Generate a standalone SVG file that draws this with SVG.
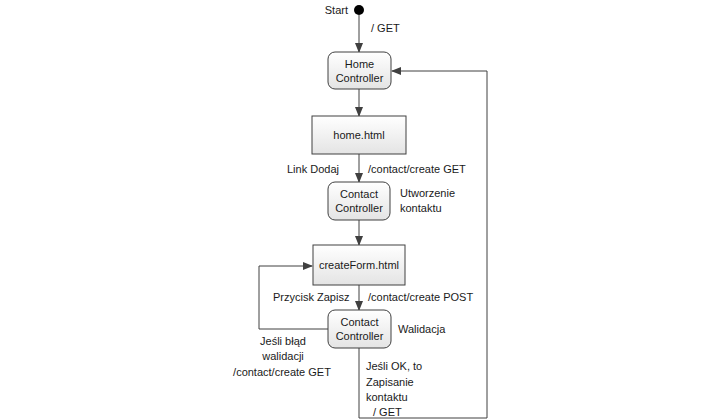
<svg xmlns="http://www.w3.org/2000/svg" width="720" height="420" viewBox="0 0 720 420">
<defs>
<linearGradient id="g" x1="0" y1="0" x2="0" y2="1">
<stop offset="0" stop-color="#ffffff"/>
<stop offset="1" stop-color="#e4e4e4"/>
</linearGradient>
<marker id="a" markerWidth="10" markerHeight="8" refX="9" refY="4" orient="auto" markerUnits="userSpaceOnUse">
<path d="M0,0 L10,4 L0,8 Z" fill="#404040"/>
</marker>
</defs>
<style>
text{font-family:"Liberation Sans",Arial,sans-serif;font-size:11px;fill:#1a1a1a}
.n{fill:url(#g);stroke:#404040;stroke-width:1}
.c{fill:none;stroke:#404040;stroke-width:1}
.m{text-anchor:middle}
</style>
<rect width="720" height="420" fill="#ffffff"/>
<g id="connectors">
<path class="c" d="M359,15 L359,52" marker-end="url(#a)"/>
<path class="c" d="M359,89 L359,116" marker-end="url(#a)"/>
<path class="c" d="M359,154 L359,182" marker-end="url(#a)"/>
<path class="c" d="M359,220 L359,245" marker-end="url(#a)"/>
<path class="c" d="M359,285 L359,310" marker-end="url(#a)"/>
<path class="c" d="M328,329 L259,329 L259,266 L312,266" marker-end="url(#a)"/>
<path class="c" d="M359,348 L359,418 L487,418 L487,71 L392,71" marker-end="url(#a)"/>
</g>
<g id="start">
<circle cx="359" cy="10" r="5" fill="#000000"/>
<text x="348" y="14" text-anchor="end">Start</text>
</g>
<text x="371" y="32">/ GET</text>
<g id="home-controller">
<rect class="n" x="328" y="52" width="63" height="37" rx="7"/>
<text class="m" x="359.5" y="68">Home</text>
<text class="m" x="359.5" y="82">Controller</text>
</g>
<g id="home-html">
<rect class="n" x="312" y="116" width="94" height="38"/>
<text class="m" x="359" y="139">home.html</text>
</g>
<text x="287" y="173">Link Dodaj</text>
<text x="368" y="173">/contact/create GET</text>
<g id="contact-controller-1">
<rect class="n" x="328" y="182" width="62" height="38" rx="7"/>
<text class="m" x="359" y="198">Contact</text>
<text class="m" x="359" y="212">Controller</text>
</g>
<text x="400" y="197">Utworzenie</text>
<text x="400" y="212">kontaktu</text>
<g id="createform-html">
<rect class="n" x="313" y="245" width="92" height="40"/>
<text class="m" x="359" y="269">createForm.html</text>
</g>
<text x="273" y="301">Przycisk Zapisz</text>
<text x="368" y="301">/contact/create POST</text>
<g id="contact-controller-2">
<rect class="n" x="328" y="310" width="63" height="38" rx="7"/>
<text class="m" x="359.5" y="326">Contact</text>
<text class="m" x="359.5" y="340">Controller</text>
</g>
<text x="398" y="333">Walidacja</text>
<text class="m" x="283" y="345">Jeśli błąd</text>
<text class="m" x="283" y="360">walidacji</text>
<text class="m" x="282" y="376">/contact/create GET</text>
<text x="366" y="370">Jeśli OK, to</text>
<text x="366" y="386">Zapisanie</text>
<text x="366" y="401">kontaktu</text>
<text x="373" y="416">/ GET</text>
</svg>
